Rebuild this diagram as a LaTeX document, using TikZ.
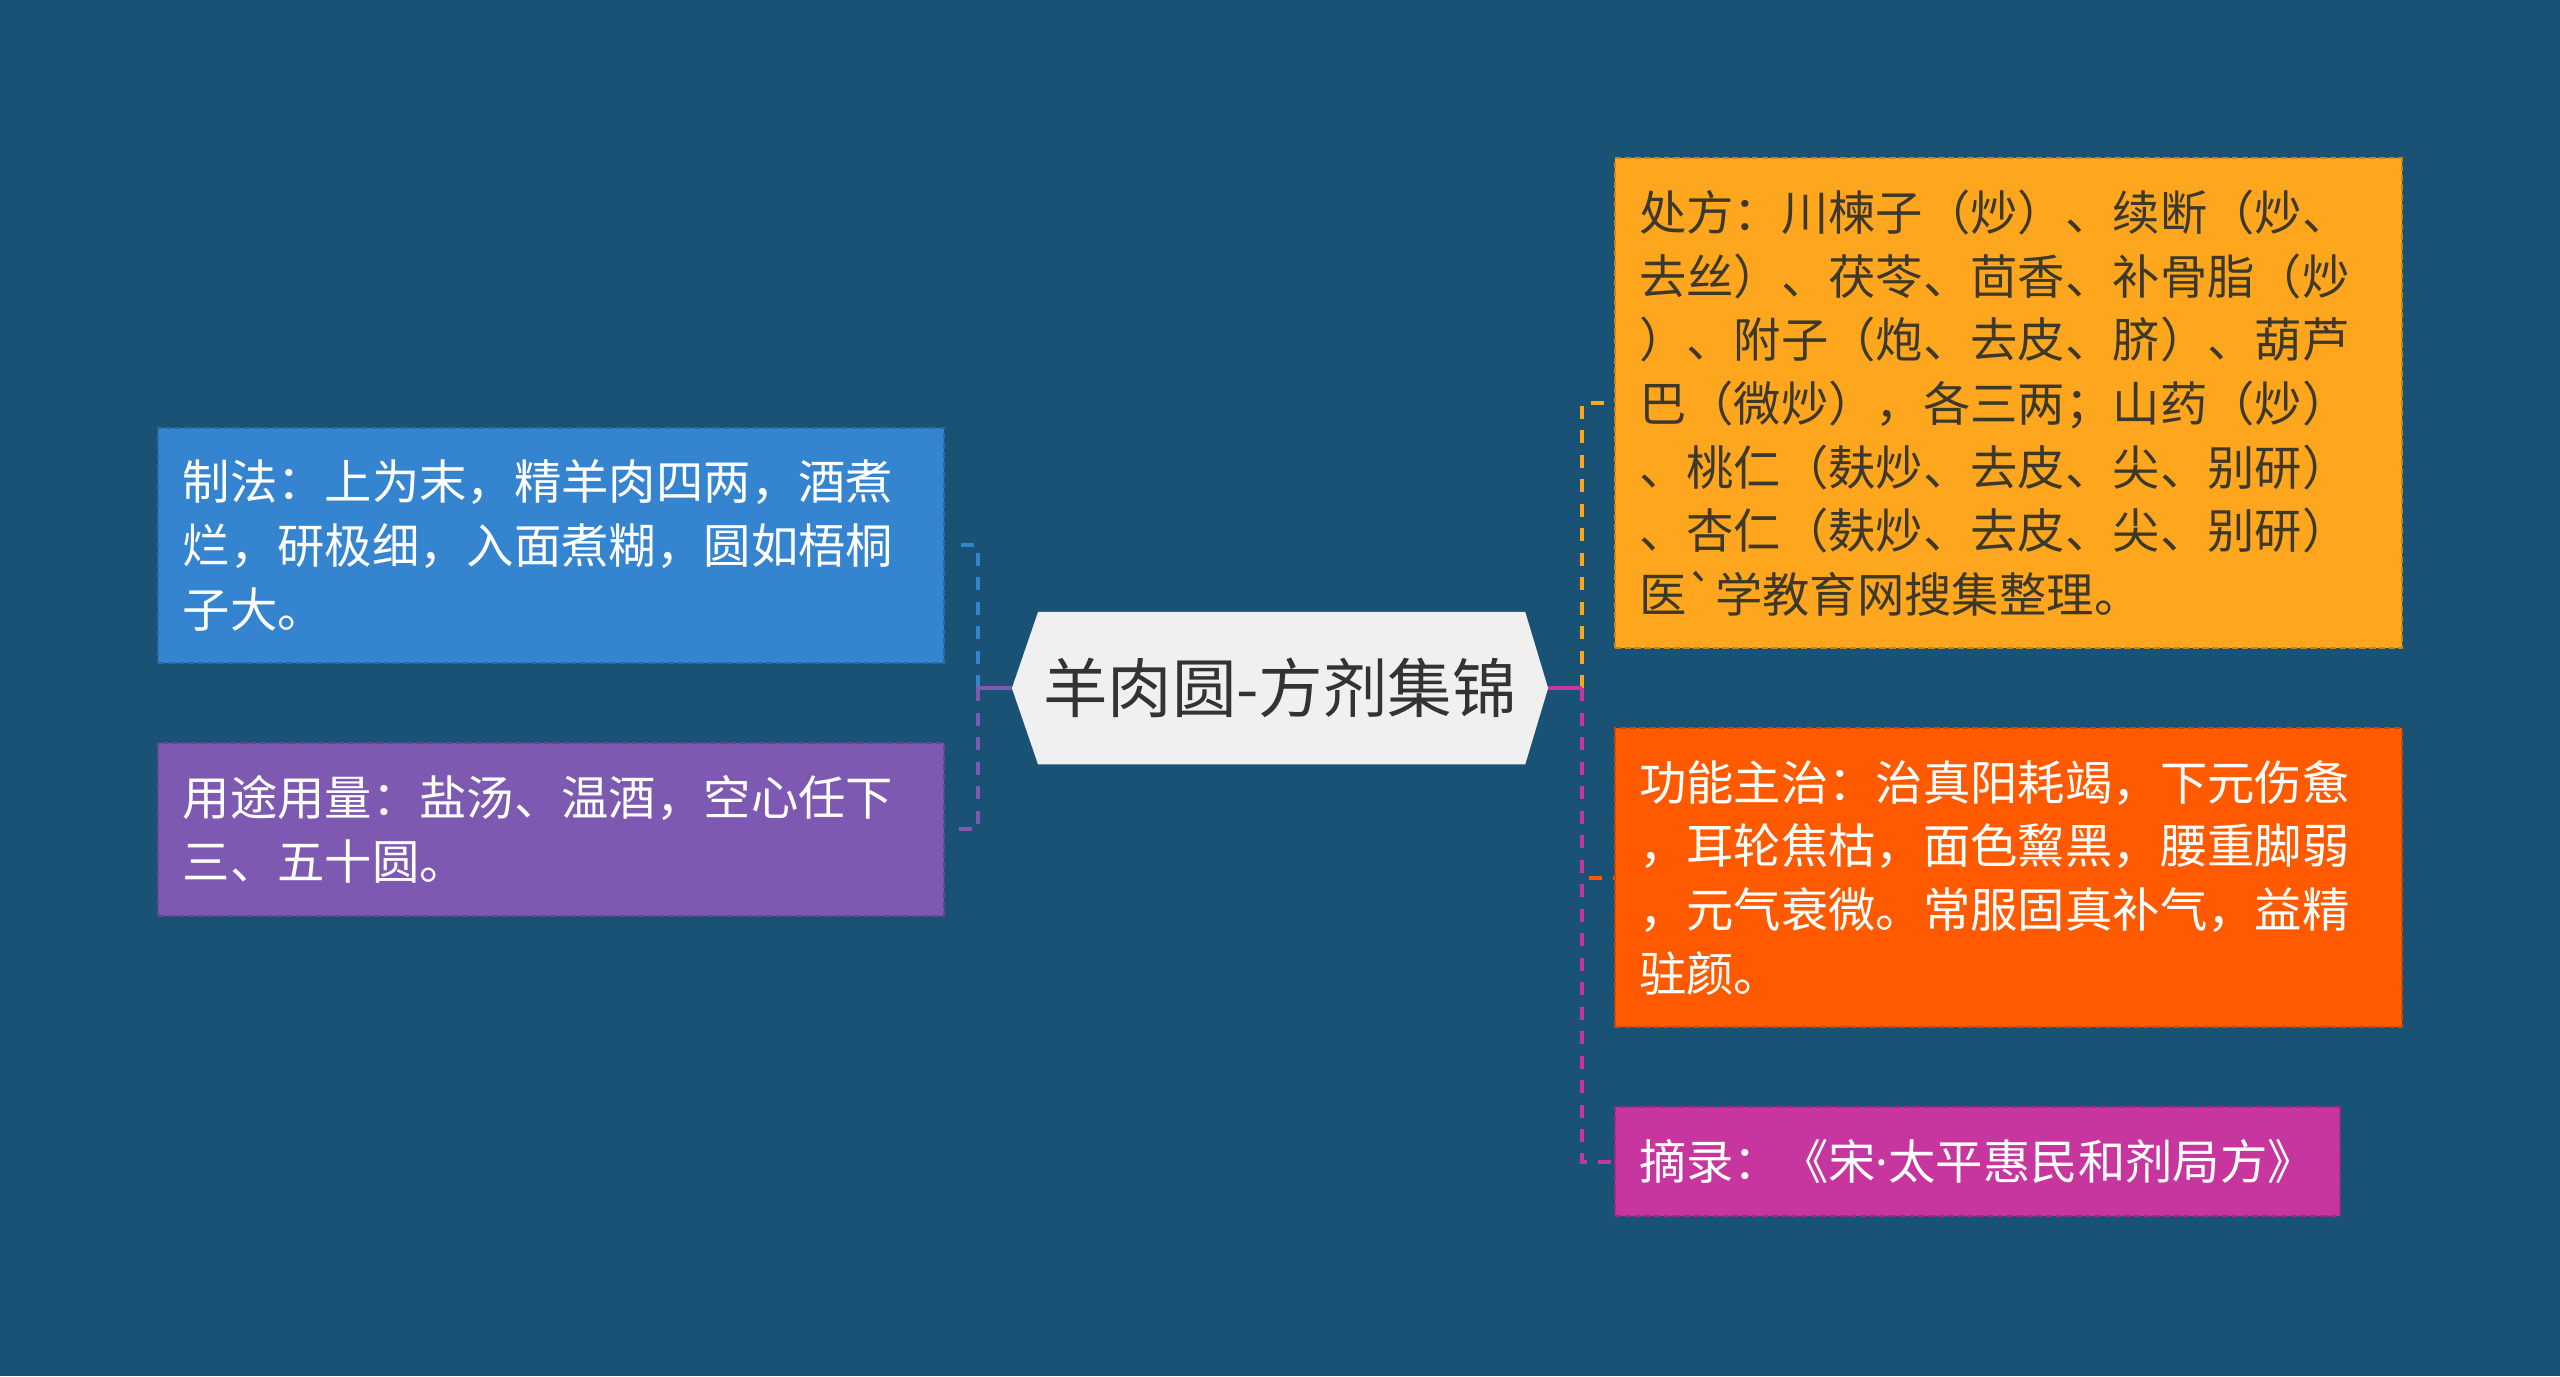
\documentclass[tikz,border=0pt]{standalone}
\usepackage{fontspec}
\newfontfamily\cjk{Noto Sans CJK SC}
\newfontfamily\latinf{Noto Sans}
\usetikzlibrary{backgrounds}
\definecolor{bgc}{RGB}{26,82,118}
\definecolor{bluebox}{RGB}{53,132,208}
\definecolor{purplebox}{RGB}{125,89,178}
\definecolor{orangebox}{RGB}{253,166,30}
\definecolor{redbox}{RGB}{255,90,0}
\definecolor{magbox}{RGB}{198,54,158}
\definecolor{centerfill}{RGB}{240,240,240}
\definecolor{darktext}{RGB}{51,51,51}
\definecolor{olivetext}{RGB}{60,56,42}
\begin{document}
\begin{tikzpicture}[x=1pt,y=-1pt,
  leaf/.style={rectangle, draw=#1!80!black, fill=#1, line width=1.2pt,
    dash pattern=on 4pt off 2pt, inner xsep=15pt, inner ysep=0pt,
    align=left, text=white, font=\cjk\fontsize{29}{39}\selectfont},
  con/.style={draw=#1, line width=2.4pt, dash pattern=on 8pt off 7pt},
  stub/.style={draw=#1, line width=2.4pt}]
\useasboundingbox (0,0) rectangle (1568,843);

\node[font=\cjk\fontsize{39.5}{46}\selectfont, text=darktext,
  minimum width=328pt, minimum height=93pt, inner sep=0pt] (c) at (784,421.5) {羊肉圆-方剂集锦};

\node[leaf=bluebox, text width=451pt, minimum height=144pt] (blue) at (337.5,334)
  {制法：上为末，精羊肉四两，酒煮\\烂，研极细，入面煮糊，圆如梧桐\\子大。};
\node[leaf=purplebox, text width=451pt, minimum height=106pt] (purple) at (337.5,508)
  {用途用量：盐汤、温酒，空心任下\\三、五十圆。};
\node[leaf=orangebox, text=olivetext, text width=452pt, minimum height=300pt] (orange) at (1230,247)
  {处方：川楝子（炒）、续断（炒、\\去丝）、茯苓、茴香、补骨脂（炒\\）、附子（炮、去皮、脐）、葫芦\\巴（微炒），各三两；山药（炒）\\、桃仁（麸炒、去皮、尖、别研）\\、杏仁（麸炒、去皮、尖、别研）\\医\symbol{96}学教育网搜集整理。};
\node[leaf=redbox, text width=452pt, minimum height=183pt] (red) at (1230,537.5)
  {功能主治：治真阳耗竭，下元伤惫\\，耳轮焦枯，面色黧黑，腰重脚弱\\，元气衰微。常服固真补气，益精\\驻颜。};
\node[leaf=magbox, text width=414pt, minimum height=67pt] (mag) at (1211,711.5)
  {摘录：《宋{\latinf ·}太平惠民和剂局方》};

\coordinate (lj) at (599,421.5);
\coordinate (rj) at (969,421.5);

\draw[con=bluebox, shorten >=3pt] (lj) |- (blue.east);
\draw[con=purplebox, shorten >=3pt] (lj) |- (purple.east);
\draw[stub=purplebox] (c.west) -- (lj);

\draw[con=orangebox, shorten >=3pt] (rj) |- (orange.west);
\draw[con=redbox] (rj) |- (red.west);
\draw[con=magbox] (rj) |- (mag.west);
\draw[stub=magbox] (c.east) -- (rj);

\begin{scope}[on background layer]
\fill[bgc] (0,0) rectangle (1568,843);
\fill[centerfill] (c.west) -- ([xshift=16pt]c.north west) -- ([xshift=-14pt]c.north east)
  -- (c.east) -- ([xshift=-14pt]c.south east) -- ([xshift=16pt]c.south west) -- cycle;
\end{scope}
\end{tikzpicture}
\end{document}
